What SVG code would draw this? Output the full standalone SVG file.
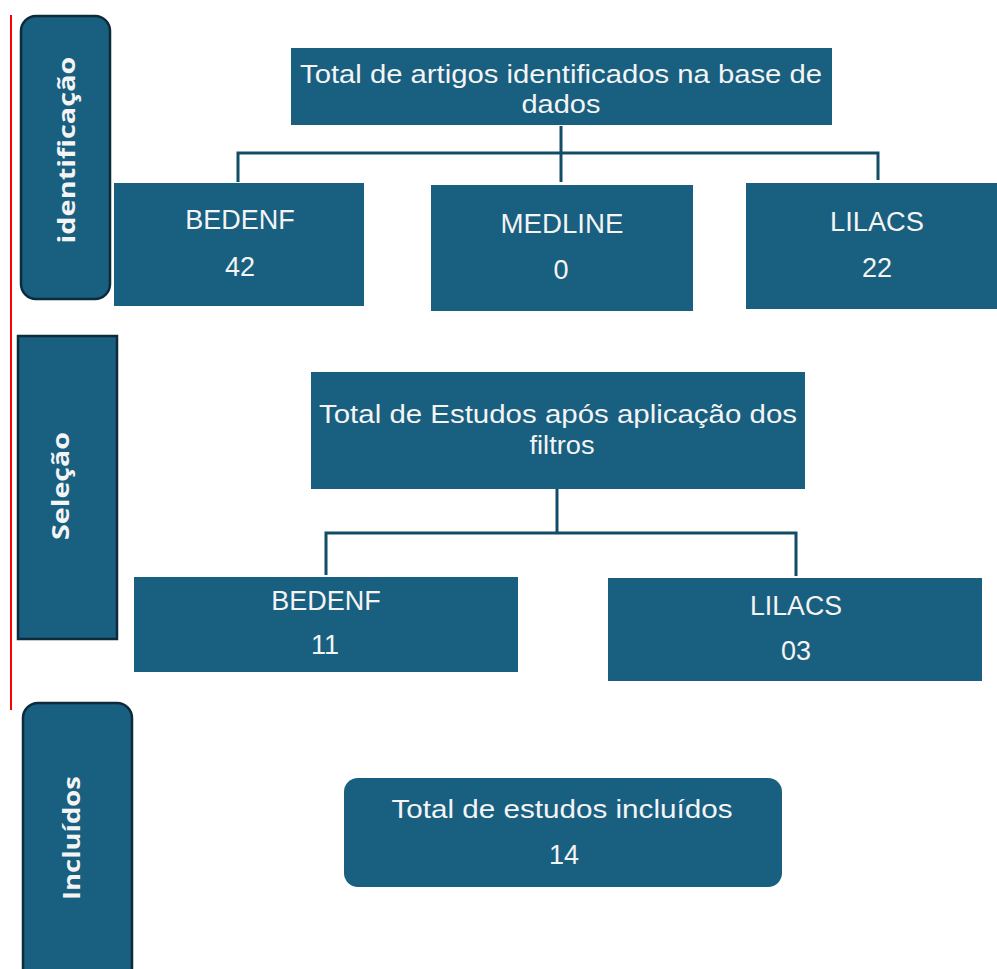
<svg xmlns="http://www.w3.org/2000/svg" width="997" height="969" viewBox="0 0 997 969">
<style>
.box{fill:#185f80;}
.side{fill:#185f80;stroke:#0d2b3b;stroke-width:2.5;}
.t{font-family:"Liberation Sans",Arial,sans-serif;font-size:26px;fill:#f4f4f4;text-anchor:middle;}
.w{font-size:27px;}
.s{font-family:"Open Sans","Liberation Sans",sans-serif;font-weight:bold;font-size:23px;fill:#f4f4f4;text-anchor:middle;}
.c{fill:none;stroke:#124c67;stroke-width:3;}
</style>
<rect width="997" height="969" fill="#ffffff"/>
<line x1="11" y1="15" x2="11" y2="710" stroke="#ff0000" stroke-width="2"/>
<g id="side-identificacao">
<rect class="side" x="21" y="16" width="89" height="283" rx="15"/>
<text class="s" transform="translate(75,150) rotate(-90)" textLength="187" lengthAdjust="spacingAndGlyphs">identificação</text>
</g>
<g id="side-selecao">
<rect class="side" x="18" y="336" width="99" height="303"/>
<text class="s" transform="translate(69,486) rotate(-90)" textLength="108" lengthAdjust="spacingAndGlyphs">Seleção</text>
</g>
<g id="side-incluidos">
<rect class="side" x="23" y="703" width="109" height="280" rx="15"/>
<text class="s" transform="translate(80,838) rotate(-90)" textLength="124" lengthAdjust="spacingAndGlyphs">Incluídos</text>
</g>
<g id="connectors">
<path class="c" d="M561 126 V182 M238 182 V153 H878 V180"/>
<path class="c" d="M557 489 V533 M326 575 V533 H796 V576"/>
</g>
<g id="total-artigos">
<rect class="box" x="291" y="48" width="541" height="77"/>
<text class="t" x="561" y="83" textLength="522" lengthAdjust="spacingAndGlyphs">Total de artigos identificados na base de</text>
<text class="t" x="561" y="113" textLength="79" lengthAdjust="spacingAndGlyphs">dados</text>
</g>
<g id="bedenf-1">
<rect class="box" x="114" y="183" width="250" height="123"/>
<text class="t w" x="240" y="229">BEDENF</text>
<text class="t w" x="240" y="276">42</text>
</g>
<g id="medline">
<rect class="box" x="431" y="185" width="262" height="126"/>
<text class="t w" x="562" y="233" textLength="123" lengthAdjust="spacingAndGlyphs">MEDLINE</text>
<text class="t w" x="561" y="279">0</text>
</g>
<g id="lilacs-1">
<rect class="box" x="746" y="183" width="251" height="126"/>
<text class="t w" x="877" y="231" textLength="94" lengthAdjust="spacingAndGlyphs">LILACS</text>
<text class="t w" x="877" y="277">22</text>
</g>
<g id="total-estudos">
<rect class="box" x="311" y="372" width="494" height="117"/>
<text class="t" x="558" y="423" textLength="478" lengthAdjust="spacingAndGlyphs">Total de Estudos após aplicação dos</text>
<text class="t" x="562" y="454" textLength="65" lengthAdjust="spacingAndGlyphs">filtros</text>
</g>
<g id="bedenf-2">
<rect class="box" x="134" y="577" width="384" height="95"/>
<text class="t w" x="326" y="610">BEDENF</text>
<text class="t w" x="325" y="654">11</text>
</g>
<g id="lilacs-2">
<rect class="box" x="608" y="578" width="374" height="103"/>
<text class="t w" x="796" y="615" textLength="92" lengthAdjust="spacingAndGlyphs">LILACS</text>
<text class="t w" x="796" y="660">03</text>
</g>
<g id="incluidos">
<rect class="box" x="344" y="778" width="438" height="109" rx="14"/>
<text class="t" x="562" y="818" textLength="341" lengthAdjust="spacingAndGlyphs">Total de estudos incluídos</text>
<text class="t w" x="564" y="864">14</text>
</g>
</svg>
